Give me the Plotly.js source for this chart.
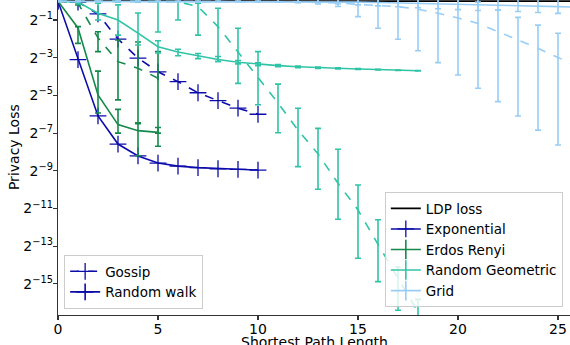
<!DOCTYPE html>
<html><head><meta charset="utf-8">
<script src="https://cdn.plot.ly/plotly-3.0.1.min.js"></script>
<style>html,body{margin:0;padding:0;background:#fff}#c{width:570px;height:345px}</style>
</head><body><div id="c"></div>
<script>
// All y values are exponents of 2 (the chart's log2 axis).
const expX = [0,1,2,3,4,5,6,7,8,9,10];
const expGossip = [0,-0.05,-0.68,-2.01,-3.02,-3.75,-4.27,-4.86,-5.28,-5.68,-6.0];
const expWalk = [0,-3.1,-6.09,-7.58,-8.21,-8.59,-8.75,-8.83,-8.89,-8.92,-8.96];

const erX = [0,1,2,3,4,5];
const erGossip   = [0,-0.11,-1.95,-3.21,-3.56,-4.09];
const erGossipHi = [0,-0.05,-1.62,-2.06,-2.17,-2.68];
const erGossipLo = [0,-0.2,-2.68,-5.24,-6.5,-7.0];
const erWalk   = [0,-1.42,-4.98,-6.55,-6.87,-6.96];
const erWalkHi = [0,-1.35,-3.71,-5.74,-6.45,-6.7];
const erWalkLo = [0,-2.24,-5.93,-7.0,-8.2,-7.7];

const rgX = [0,1,2,3,4,5,6,7,8,9,10,11,12,13,14,15,16,17,18];
const rgWalk   = [0,-0.05,-0.64,-1.0,-1.7,-2.42,-2.7,-2.9,-3.1,-3.24,-3.34,-3.42,-3.48,-3.53,-3.57,-3.6,-3.63,-3.66,-3.69];
const rgWalkHi = [0,0,-0.11,-0.2,-0.63,-2.1,-2.55,-2.78,-2.94,-3.15,-3.27,-3.36,-3.44,-3.5,-3.54,-3.58,-3.62,-3.65,-3.68];
const rgWalkLo = [0,-0.15,-1.0,-1.8,-2.33,-2.75,-2.9,-3.05,-3.2,-3.33,-3.42,-3.48,-3.53,-3.57,-3.6,-3.62,-3.65,-3.68,-3.7];
const rgGossip   = [0,0,0,-0.01,-0.01,-0.02,-0.03,-0.29,-1.35,-2.7,-4.05,-5.4,-6.84,-8.1,-9.66,-11.08,-12.9,-14.7,-16.5];
const rgGossipHi = [0,0,0,0,0,0.3,0.3,-0.11,-0.38,-1.44,-2.68,-4.4,-5.68,-6.75,-7.86,-9.75,-11.6,-14.1,-15.82];
const rgGossipLo = [0,0,0,-0.05,-0.05,-1.64,-1.0,-1.8,-3.2,-4.36,-5.5,-6.98,-8.78,-9.98,-11.57,-13.64,-14.88,-16.4,-18.5];

const gX = [0,1,2,3,4,5,6,7,8,9,10,11,12,13,14,15,16,17,18,19,20,21,22,23,24,25,26];
const gWalk   = [-0.02,-0.02,-0.02,-0.02,-0.02,-0.02,-0.02,-0.02,-0.02,-0.02,-0.02,-0.02,-0.02,-0.03,-0.04,-0.05,-0.07,-0.09,-0.11,-0.13,-0.15,-0.18,-0.2,-0.23,-0.26,-0.29,-0.33];
const gWalkHi = [0.1,0.1,0.1,0.1,0.1,0.1,0.1,0.1,0.1,0.1,0.1,0.1,0.1,0.1,0.1,0.1,0.1,0.1,0.1,0.1,0.1,0.1,0.1,0.1,0.1,0.1,0.1];
const gWalkLo = [-0.03,-0.03,-0.03,-0.03,-0.03,-0.03,-0.03,-0.03,-0.03,-0.03,-0.04,-0.05,-0.07,-0.1,-0.15,-0.2,-0.25,-0.3,-0.35,-0.4,-0.45,-0.5,-0.47,-0.55,-0.6,-0.65,-0.7];
const gGossip   = [0,0,0,0,0,0,0,0,0,0,0,-0.02,-0.04,-0.07,-0.1,-0.17,-0.22,-0.29,-0.43,-0.64,-0.89,-1.18,-1.62,-2.06,-2.5,-2.99,-3.45];
const gGossipHi = [0,0,0,0,0,0,0,0,0,0,0,0.5,0.5,0.5,0.5,0.5,0.5,0.5,0.5,0.5,0.5,-0.05,-0.47,-0.86,-1.27,-1.7,-2.1];
const gGossipLo = [0,0,0,0,0,0,0,0,0,0,0,-0.05,-0.08,-0.15,-0.28,-0.82,-1.44,-2.02,-2.63,-3.26,-3.92,-4.62,-5.33,-6.09,-6.84,-7.63,-8.4];

const ldpX = [0,26];
const ldpY = [0,0];

const yTickExp = [-1,-3,-5,-7,-9,-11,-13,-15];
const xTicks = [0,5,10,15,20,25];

const C = {ldp:'#000000', exp:'#0c0caa', er:'#14894b', rg:'#30c4a6', grid:'#98cdf6'};
const p2 = e => Math.pow(2, e);
const FONT = 'DejaVu Sans, sans-serif';

function errTrace(x, c, hi, lo, color, dash, name) {
  const y = c.map(p2);
  return {
    x: x, y: y, type: 'scatter', mode: 'lines', name: name, showlegend: false,
    line: {color: color, width: 1.6, dash: dash},
    error_y: {type: 'data', symmetric: false,
      array: hi.map((h, i) => Math.max(0, p2(h) - y[i])),
      arrayminus: lo.map((l, i) => Math.max(0, y[i] - p2(l))),
      color: color, thickness: 1.6, width: 3}
  };
}
function markTrace(x, c, color, dash, name, legend, show) {
  return {
    x: x, y: c.map(p2), type: 'scatter', mode: 'lines+markers', name: name, legend: legend, showlegend: show,
    line: {color: color, width: 1.6, dash: dash},
    marker: {symbol: 'cross-thin', size: 12, color: color, line: {color: color, width: 1.3}}
  };
}
// legend-only entry (no data) showing a line with an error-bar tick
function legendEntry(name, color, legend, symbol, size) {
  return {x: [null], y: [null], type: 'scatter', mode: 'lines+markers', name: name, legend: legend,
    line: {color: color, width: 1.6},
    marker: {symbol: symbol, size: size, color: color, line: {color: color, width: 1.6}}};
}

const traces = [
  {x: ldpX, y: ldpY.map(p2), type: 'scatter', mode: 'lines', name: 'LDP loss', legend: 'legend2',
   line: {color: C.ldp, width: 1.6}},
  markTrace(expX, expGossip, C.exp, 'dash', 'Gossip', 'legend', true),
  markTrace(expX, expWalk, C.exp, 'solid', 'Exponential', 'legend2', true),
  errTrace(erX, erGossip, erGossipHi, erGossipLo, C.er, 'dash', 'Erdos Renyi gossip'),
  errTrace(erX, erWalk, erWalkHi, erWalkLo, C.er, 'solid', 'Erdos Renyi walk'),
  errTrace(rgX, rgGossip, rgGossipHi, rgGossipLo, C.rg, 'dash', 'Random Geometric gossip'),
  errTrace(rgX, rgWalk, rgWalkHi, rgWalkLo, C.rg, 'solid', 'Random Geometric walk'),
  errTrace(gX, gGossip, gGossipHi, gGossipLo, C.grid, 'dash', 'Grid gossip'),
  errTrace(gX, gWalk, gWalkHi, gWalkLo, C.grid, 'solid', 'Grid walk'),
  legendEntry('Random walk', C.exp, 'legend', 'cross-thin', 12),
  legendEntry('Erdos Renyi', C.er, 'legend2', 'line-ns', 14),
  legendEntry('Random Geometric', C.rg, 'legend2', 'line-ns', 14),
  legendEntry('Grid', C.grid, 'legend2', 'line-ns', 14)
];

const L2 = Math.log10(2);
const legendCommon = {bgcolor: 'rgba(255,255,255,0.8)', bordercolor: '#cccccc', borderwidth: 1,
  font: {family: FONT, size: 13.5, color: '#000'}, traceorder: 'normal', tracegroupgap: 0};

const layout = {
  width: 570, height: 345,
  margin: {l: 58, r: 0, t: 0, b: 30},
  paper_bgcolor: '#ffffff', plot_bgcolor: '#ffffff',
  font: {family: FONT, size: 14, color: '#000'},
  xaxis: {range: [0, 25.6], tickvals: xTicks, ticks: 'outside', ticklen: 4, tickwidth: 1.2,
    tickcolor: '#333', showline: true, linecolor: '#333', linewidth: 1.3, showgrid: false, zeroline: false,
    tickfont: {family: FONT, size: 14}, automargin: false, ticklabelstandoff: -3},
  yaxis: {type: 'log', range: [-16.65 * L2, 0.061 * L2], tickvals: yTickExp.map(p2),
    ticktext: yTickExp.map(e => '2<sup>\u2212' + (-e) + '</sup>'),
    ticks: 'outside', ticklen: 4, tickwidth: 1.2, tickcolor: '#333', showline: true, linecolor: '#333',
    linewidth: 1.3, showgrid: false, zeroline: false, tickfont: {family: FONT, size: 14}, automargin: false,
    ticklabelstandoff: -3},
  annotations: [
    {text: 'Shortest Path Length', xref: 'paper', yref: 'paper', x: 0.5, y: -0.054, xanchor: 'center', yanchor: 'top',
     showarrow: false, font: {family: FONT, size: 14, color: '#000'}},
    {text: 'Privacy Loss', xref: 'paper', yref: 'paper', x: -0.086, y: 0.533, xanchor: 'center', yanchor: 'middle',
     textangle: -90, showarrow: false, font: {family: FONT, size: 14, color: '#000'}}
  ],
  legend: Object.assign({x: 0.012, y: 0.019, xanchor: 'left', yanchor: 'bottom'}, legendCommon),
  legend2: Object.assign({x: 0.986, y: 0.025, xanchor: 'right', yanchor: 'bottom'}, legendCommon),
  showlegend: true
};

Plotly.newPlot('c', traces, layout, {displayModeBar: false, staticPlot: true});
</script></body></html>
